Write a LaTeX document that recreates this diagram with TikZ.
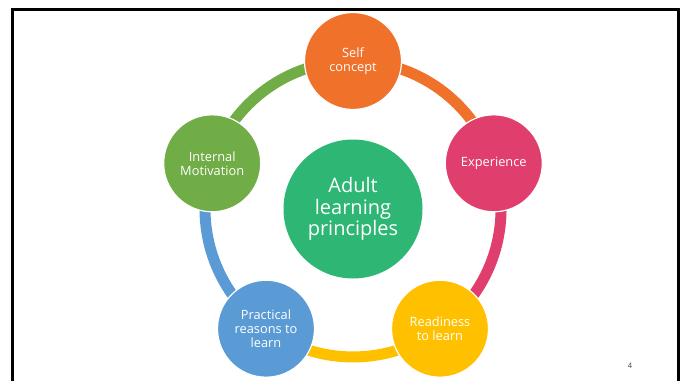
\documentclass[tikz,border=0pt]{standalone}
\usepackage{fontspec}
\setmainfont{Open Sans}
\usetikzlibrary{backgrounds}
\definecolor{selfc}{HTML}{F0712A}
\definecolor{expc}{HTML}{E03F6D}
\definecolor{readc}{HTML}{FFC000}
\definecolor{pracc}{HTML}{5B9BD5}
\definecolor{motc}{HTML}{70AD47}
\definecolor{hubc}{HTML}{2DB674}

\begin{document}
\begin{tikzpicture}[x=1pt,y=-1pt,
    unit/.style={circle,draw=white,line width=1.2pt,minimum size=97pt,inner sep=0pt,
      align=center,text=white,font=\fontsize{12.8}{14}\selectfont},
    hub/.style={circle,minimum size=139pt,inner sep=0pt,align=center,text=white,
      font=\fontsize{20}{21.5}\selectfont},
    ring/.style={line width=11pt}]
  \useasboundingbox (0,0) rectangle (685,380);
  \draw[line width=3pt] (12,390)--(12,9)--(678,9)--(678,390);

  \node[hub,fill=hubc] (hub) at (353,209) {Adult\\learning\\principles};
  \node[unit,fill=selfc] (self) at (353,61) {Self\\concept};
  \node[unit,fill=expc] (exp) at (493.8,163.3) {Experience};
  \node[unit,fill=readc] (ready) at (440,328.7) {Readiness\\to learn};
  \node[unit,fill=pracc] (prac) at (266,328.7) {Practical\\reasons to\\learn};
  \node[unit,fill=motc] (mot) at (212.2,163.3) {Internal\\Motivation};

  \begin{pgfonlayer}{background}
    \draw[ring,selfc] (self.center) arc[start angle=-90,end angle=-18,radius=148];
    \draw[ring,expc] (exp.center) arc[start angle=-18,end angle=54,radius=148];
    \draw[ring,readc] (ready.center) arc[start angle=54,end angle=126,radius=148];
    \draw[ring,pracc] (prac.center) arc[start angle=126,end angle=198,radius=148];
    \draw[ring,motc] (mot.center) arc[start angle=198,end angle=270,radius=148];
  \end{pgfonlayer}

  \node[text=black!75,font=\fontsize{7.5}{8}\selectfont] (pnum) at (630,366) {4};
\end{tikzpicture}
\end{document}
